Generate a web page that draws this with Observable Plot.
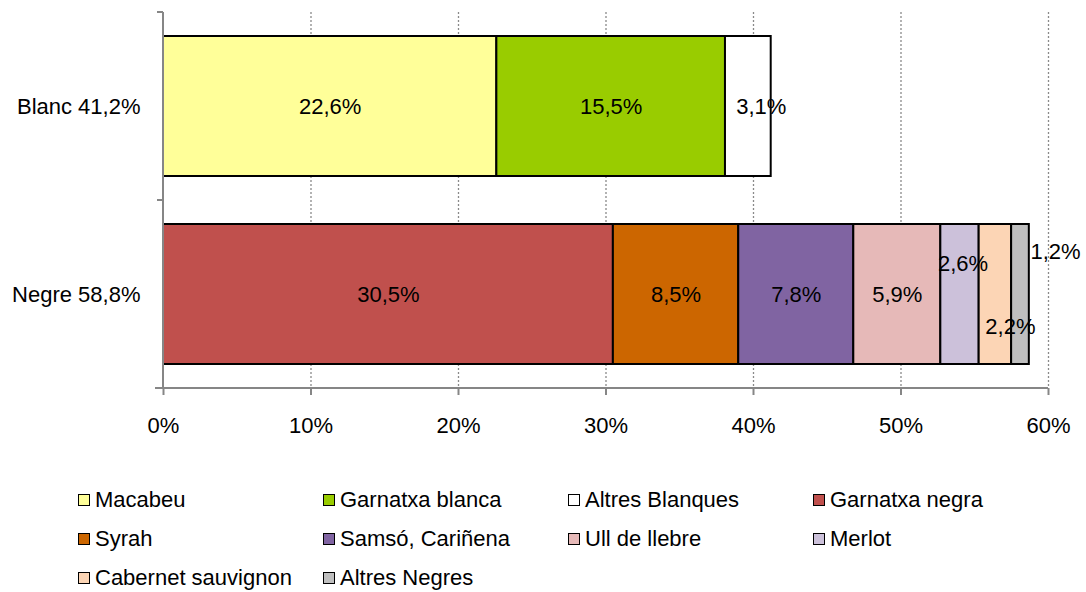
<!DOCTYPE html>
<html><head><meta charset="utf-8">
<script src="https://cdn.jsdelivr.net/npm/d3@7"></script>
<script src="https://cdn.jsdelivr.net/npm/@observablehq/plot@0.6"></script>
<style>
body{margin:0;background:#fff;font-family:"Liberation Sans",Arial,sans-serif;}
#legend{display:grid;grid-template-columns:repeat(4,245px);grid-auto-rows:39px;padding-left:78px;margin-top:20px;font-size:22px;color:#000;}
.item{display:flex;align-items:center;white-space:nowrap;}
.sw{width:10px;height:10px;border:1.5px solid #000;margin-right:5px;flex:none;}
</style></head><body><div id="chart"></div><div id="legend"></div>
<script>
const categories = ["Blanc 41,2%", "Negre 58,8%"];
const varieties = ["Macabeu", "Garnatxa blanca", "Altres Blanques", "Garnatxa negra", "Syrah", "Samsó, Cariñena", "Ull de llebre", "Merlot", "Cabernet sauvignon", "Altres Negres"];
const varietyType = ["Blanc 41,2%", "Blanc 41,2%", "Blanc 41,2%", "Negre 58,8%", "Negre 58,8%", "Negre 58,8%", "Negre 58,8%", "Negre 58,8%", "Negre 58,8%", "Negre 58,8%"];
const values = [22.6, 15.5, 3.1, 30.5, 8.5, 7.8, 5.9, 2.6, 2.2, 1.2];
const colors = ["#FFFF99", "#99CC00", "#FFFFFF", "#C0504D", "#CC6600", "#8064A2", "#E6B9B8", "#CCC1DA", "#FCD5B5", "#BFBFBF"];
const xTicks = [0, 10, 20, 30, 40, 50, 60];

// label nudges (pixels) for the narrow segments
const labelShift = {"Altres Blanques": [13, 0], "Merlot": [3, -31], "Cabernet sauvignon": [15, 32], "Altres Negres": [35, -43]};

const fmt = v => v.toFixed(1).replace(".", ",") + "%";
const rows = varieties.map((v, i) => ({variety: v, type: varietyType[i], value: values[i]}));
const cum = new Map();
const labels = rows.map(r => {
  const s = cum.get(r.type) ?? 0;
  cum.set(r.type, s + r.value);
  return {...r, mid: s + r.value / 2, text: fmt(r.value)};
});

const textMarks = [];
textMarks.push(Plot.text(labels.filter(d => !labelShift[d.variety]), {x: "mid", y: "type", text: "text", fill: "black"}));
for (const [name, [dx, dy]] of Object.entries(labelShift)) {
  textMarks.push(Plot.text(labels.filter(d => d.variety === name), {x: "mid", y: "type", text: "text", fill: "black", dx, dy}));
}

const plot = Plot.plot({
  width: 1086, height: 460,
  marginLeft: 163, marginRight: 38, marginTop: 12, marginBottom: 72,
  style: {fontFamily: "'Liberation Sans', Arial, sans-serif", fontSize: "22px", color: "black", background: "white"},
  x: {domain: [0, 60]},
  y: {domain: categories, paddingInner: 0.255, paddingOuter: 0.1275},
  color: {domain: varieties, range: colors},
  marks: [
    Plot.gridX({ticks: xTicks.slice(1), stroke: "#8a8a8a", strokeOpacity: 1, strokeDasharray: "2,2", strokeWidth: 1.3}),
    Plot.barX(rows, Plot.stackX({x: "value", y: "type", fill: "variety", stroke: "black", strokeWidth: 2})),
    ...textMarks,
    Plot.axisX({ticks: xTicks, tickFormat: d => d + "%", tickSize: 7, tickPadding: 22, stroke: "#868686", strokeWidth: 2, label: null}),
    Plot.axisY({tickSize: 0, tickPadding: 23, label: null})
  ]
});

// axis lines and band-boundary ticks, placed with the plot's own scales
const xs = plot.scale("x"), ys = plot.scale("y");
const x0 = xs.apply(0), xEnd = xs.apply(60);
const [yTop, yBot] = ys.range;
const gap = (ys.step - ys.bandwidth) / 2;
const bounds = [yTop, ...categories.map(c => ys.apply(c) + ys.bandwidth + gap)];
const g = d3.select(plot).append("g").attr("stroke", "#868686").attr("stroke-width", 2);
g.append("line").attr("x1", x0).attr("x2", x0).attr("y1", yTop).attr("y2", yBot);
g.append("line").attr("x1", x0 - 8).attr("x2", xEnd).attr("y1", yBot).attr("y2", yBot);
for (const b of bounds) g.append("line").attr("x1", x0 - 6).attr("x2", x0).attr("y1", b).attr("y2", b);

document.getElementById("chart").appendChild(plot);

const legend = document.getElementById("legend");
varieties.forEach((v, i) => {
  const it = document.createElement("div");
  it.className = "item";
  const sw = document.createElement("span");
  sw.className = "sw";
  sw.style.background = colors[i];
  const t = document.createElement("span");
  t.textContent = v;
  it.appendChild(sw); it.appendChild(t);
  legend.appendChild(it);
});
</script></body></html>
